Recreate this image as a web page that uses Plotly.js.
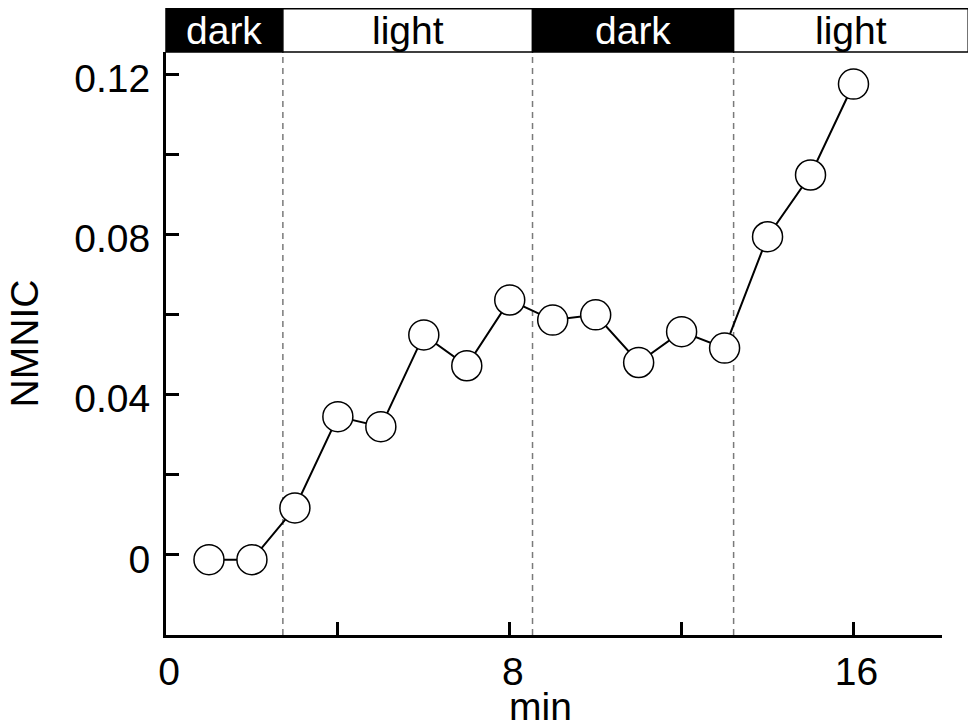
<!DOCTYPE html>
<html>
<head>
<meta charset="utf-8">
<script src="https://cdn.plot.ly/plotly-3.0.1.min.js"></script>
<style>html,body{margin:0;padding:0;background:#fff;}#chart{width:968px;height:727px;}</style>
</head>
<body>
<div id="chart"></div>
<script>
// Data
const minutes = [1, 2, 3, 4, 5, 6, 7, 8, 9, 10, 11, 12, 13, 14, 15, 16];
const nmnic = [-0.0012, -0.0012, 0.0117, 0.0345, 0.0320, 0.0549, 0.0472, 0.0636,
               0.0586, 0.0599, 0.0480, 0.0557, 0.0516, 0.0794, 0.0948, 0.1175];

// Light / dark phases (minutes)
const phaseLabels = ['dark', 'light', 'dark', 'light'];
const phaseBounds = [0, 2.72, 8.53, 13.21, 18.67];
const switchTimes = [2.72, 8.53, 13.21];

const xTickVals = [0, 4, 8, 12, 16];
const xTickText = ['0', '', '8', '', '16'];
const yTickVals = [0, 0.02, 0.04, 0.06, 0.08, 0.10, 0.12];
const yTickText = ['0', '', '0.04', '', '0.08', '', '0.12'];

const xTitle = 'min';
const yTitle = 'NMNIC';

const xRange = [0, 18.06];
const yRange = [-0.02, 0.1255];

const FONT = 'Liberation Sans, Arial, sans-serif';
const FS = 39;
const toPaperX = t => (t - xRange[0]) / (xRange[1] - xRange[0]);

const barTop = 1.074;
const shapes = [];
const annotations = [];
for (let i = 0; i < phaseLabels.length; i++) {
  const isDark = phaseLabels[i] === 'dark';
  const x0 = toPaperX(phaseBounds[i]);
  const x1 = toPaperX(phaseBounds[i + 1]);
  shapes.push({
    type: 'rect', xref: 'paper', yref: 'paper',
    x0: x0, x1: x1, y0: 1, y1: barTop,
    fillcolor: isDark ? '#000' : '#fff',
    line: {color: '#000', width: 1.5},
    layer: 'above'
  });
  annotations.push({
    xref: 'paper', yref: 'paper',
    x: (x0 + x1) / 2, y: (1 + barTop) / 2,
    xanchor: 'center', yanchor: 'middle',
    text: phaseLabels[i], showarrow: false,
    font: {family: FONT, size: FS, color: isDark ? '#fff' : '#000'}
  });
}
switchTimes.forEach(t => {
  shapes.push({
    type: 'line', xref: 'x', yref: 'paper',
    x0: t, x1: t, y0: 0, y1: 1,
    line: {color: '#7a7a7a', width: 1.5, dash: '6px,5px'},
    layer: 'below'
  });
});

// x-axis title, placed slightly left of the axis centre as in the reference
annotations.push({
  xref: 'paper', yref: 'paper',
  x: 0.482, y: -0.122,
  xanchor: 'center', yanchor: 'middle',
  text: xTitle, showarrow: false,
  font: {family: FONT, size: FS, color: '#000'}
});

const trace = {
  x: minutes, y: nmnic, type: 'scatter', mode: 'lines+markers',
  line: {color: '#000', width: 2},
  marker: {size: 30, color: '#fff', line: {color: '#000', width: 1.5}},
  cliponaxis: false,
  hoverinfo: 'skip'
};

const layout = {
  width: 968, height: 727,
  margin: {l: 166, r: 26, t: 52, b: 92, pad: 0},
  paper_bgcolor: '#fff', plot_bgcolor: '#fff',
  showlegend: false,
  font: {family: FONT, size: FS, color: '#000'},
  xaxis: {
    range: xRange, showgrid: false, zeroline: false,
    showline: true, linecolor: '#000', linewidth: 3,
    ticks: 'inside', ticklen: 13, tickwidth: 3, tickcolor: '#000',
    tickmode: 'array', tickvals: xTickVals, ticktext: xTickText,
    ticklabelshift: 3,
    tickfont: {family: FONT, size: FS, color: '#000'}
  },
  yaxis: {
    range: yRange, showgrid: false, zeroline: false,
    showline: true, linecolor: '#000', linewidth: 3,
    ticks: 'inside', ticklen: 13, tickwidth: 3, tickcolor: '#000',
    tickmode: 'array', tickvals: yTickVals, ticktext: yTickText,
    ticklabelstandoff: 5, ticklabelshift: 4,
    tickfont: {family: FONT, size: FS, color: '#000'},
    title: {text: yTitle, font: {family: FONT, size: FS, color: '#000'}, standoff: 24}
  },
  shapes: shapes,
  annotations: annotations
};

Plotly.newPlot('chart', [trace], layout, {displayModeBar: false, staticPlot: true});
</script>
</body>
</html>
